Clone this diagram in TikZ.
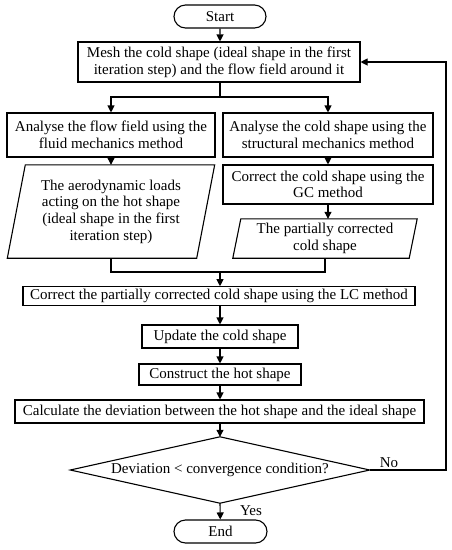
\documentclass[tikz,border=0pt]{standalone}
\usepackage{fontspec}
\setmainfont{Liberation Serif}
\usetikzlibrary{arrows.meta,shapes.geometric,shapes.misc}
\begin{document}
\begin{tikzpicture}[x=1pt,y=-1pt,
  txt/.style={inner sep=0pt, align=center, font=\fontsize{15}{16.7}\selectfont},
  box/.style={txt, draw, line width=1.1pt},
  term/.style={box, rounded rectangle},
  ln/.style={line width=1.1pt},
  arr/.style={ln, -{Triangle[width=7pt,length=7pt]}},
  lbl/.style={inner sep=0pt, font=\fontsize{15}{16.7}\selectfont}]
\useasboundingbox (0,0) rectangle (452,550);

\node[term, minimum width=92pt, minimum height=23pt] (start) at (220,16.5) {Start};
\node[box, minimum width=282pt, minimum height=40pt] (mesh) at (219,62)
  {Mesh the cold shape (ideal shape in the first\\iteration step) and the flow field around it};
\node[box, minimum width=208pt, minimum height=44pt] (an1) at (111,135)
  {Analyse the flow field using the\\fluid mechanics method};
\node[box, minimum width=210pt, minimum height=44pt] (an2) at (328,135)
  {Analyse the cold shape using the\\structural mechanics method};
\node[txt, minimum width=189pt, minimum height=93pt] (loads) at (111,211.5)
  {The aerodynamic loads\\acting on the hot shape\\(ideal shape in the first\\iteration step)};
\draw[ln] ([xshift=9pt]loads.north west) -- ([xshift=9pt]loads.north east)
  -- ([xshift=-9pt]loads.south east) -- ([xshift=-9pt]loads.south west) -- cycle;
\node[box, minimum width=210pt, minimum height=39pt] (gc) at (328,184.5)
  {Correct the cold shape using the\\GC method};
\node[txt, minimum width=176pt, minimum height=39pt] (partial) at (325,238.5)
  {The partially corrected\\cold shape};
\draw[ln] ([xshift=4pt]partial.north west) -- ([xshift=4pt]partial.north east)
  -- ([xshift=-4pt]partial.south east) -- ([xshift=-4pt]partial.south west) -- cycle;
\node[box, minimum width=392pt, minimum height=18.5pt] (lc) at (219,296)
  {Correct the partially corrected cold shape using the LC method};
\node[box, minimum width=156pt, minimum height=23pt] (update) at (220,336.5)
  {Update the cold shape};
\node[box, minimum width=162pt, minimum height=21pt] (construct) at (220,374.5)
  {Construct the hot shape};
\node[box, minimum width=409pt, minimum height=23pt] (calc) at (219.5,411.5)
  {Calculate the deviation between the hot shape and the ideal shape};
\node[txt, minimum width=299pt, minimum height=66pt] (cond) at (220,470)
  {Deviation < convergence condition?};
\draw[ln] (cond.north) -- (cond.east) -- (cond.south) -- (cond.west) -- cycle;
\node[term, minimum width=93pt, minimum height=23pt] (end) at (220.5,531.5) {End};

\coordinate (split) at (220,97);
\coordinate (merge) at (220,272);
\coordinate (loop) at (446,470);

\draw[arr] (start) -- (start |- mesh.north);
\draw[ln] (split |- mesh.south) -- (split);
\draw[arr] (split) -| (an1);
\draw[arr] (split) -| (an2);
\draw[arr] (an1) -- (an1 |- loads.north);
\draw[arr] (an2) -- (gc);
\draw[arr] (gc) -- (gc |- partial.north);
\draw[ln] (loads.south) |- (merge) -| (partial.south);
\draw[arr] (merge) -- (merge |- lc.north);
\draw[arr] (merge |- lc.south) -- (merge |- update.north);
\draw[arr] (update) -- (construct);
\draw[arr] (construct) -- (construct |- calc.north);
\draw[arr] (construct |- calc.south) -- (cond.north);
\draw[arr] (cond.south) -- (end);
\draw[arr] (cond.east) -- (loop) |- (mesh.east);
\node[lbl] (no) at (389,463) {No};
\node[lbl] (yes) at (251,511) {Yes};
\end{tikzpicture}
\end{document}
